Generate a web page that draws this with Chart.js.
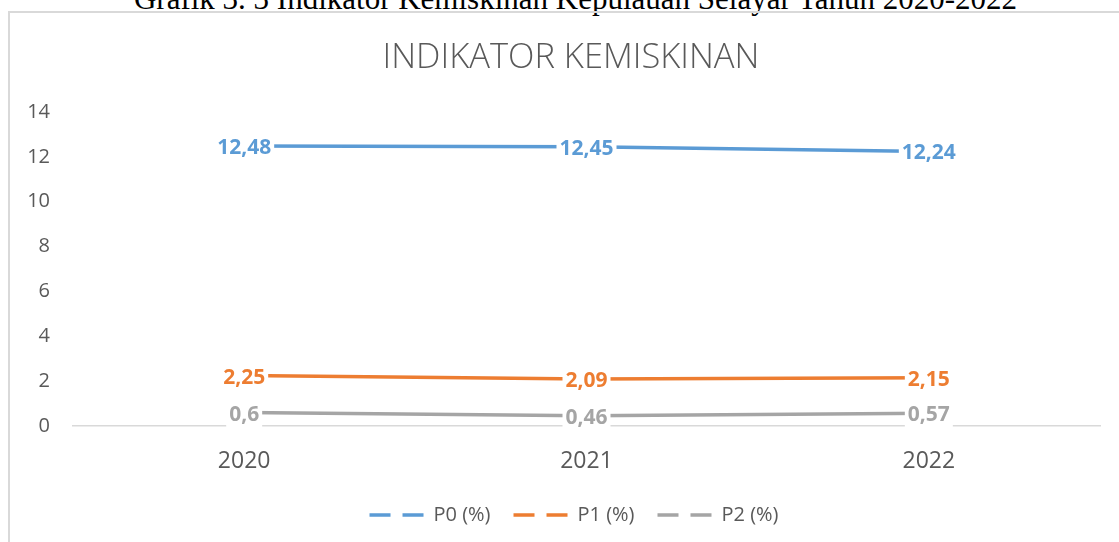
<!DOCTYPE html>
<html lang="id">
<head>
<meta charset="UTF-8">
<title>Indikator Kemiskinan</title>
<script src="https://cdn.jsdelivr.net/npm/chart.js@4.4.0/dist/chart.umd.min.js"></script>
<style>
  html, body { margin: 0; padding: 0; background: #fff; overflow: hidden; }
  .page { position: relative; width: 1119px; height: 542px; overflow: hidden; }
  .caption {
    position: absolute; left: 0; width: 1151px; top: -17px;
    text-align: center; font-family: "Liberation Serif", serif;
    font-size: 31px; line-height: 1; color: #000; white-space: nowrap;
  }
  .frame {
    position: absolute; left: 8px; top: 11px; width: 1300px; height: 700px;
    border-left: 2px solid #d9d9d9; border-top: 2px solid #d9d9d9;
  }
  #chart { position: absolute; left: 0; top: 0; }
</style>
</head>
<body>
<div class="page">
  <div class="caption">Grafik 3. 3 Indikator Kemiskinan Kepulauan Selayar Tahun 2020-2022</div>
  <div class="frame"></div>
  <canvas id="chart" width="1119" height="542"></canvas>
</div>

<script>
// data
var years = ["2020", "2021", "2022"];
var p0 = [12.48, 12.45, 12.24];
var p1 = [2.25, 2.09, 2.15];
var p2 = [0.6, 0.46, 0.57];
var yTicks = [0, 2, 4, 6, 8, 10, 12, 14];

var seriesNames = ["P0 (%)", "P1 (%)", "P2 (%)"];
var seriesColors = ["#5b9bd5", "#ed7d31", "#a5a5a5"];

Chart.defaults.font.family = '"Open Sans", sans-serif';
Chart.defaults.color = "#595959";

// value labels sit on top of the points with a white box behind them
var valueLabels = {
  id: "valueLabels",
  afterDatasetsDraw: function (chart) {
    var ctx = chart.ctx;
    ctx.save();
    ctx.font = 'bold 21px "Open Sans", sans-serif';
    ctx.textAlign = "center";
    ctx.textBaseline = "middle";
    chart.data.datasets.forEach(function (ds, i) {
      var meta = chart.getDatasetMeta(i);
      meta.data.forEach(function (pt, j) {
        var txt = String(ds.data[j]).replace(".", ",");
        var w = ctx.measureText(txt).width;
        ctx.fillStyle = "#fff";
        ctx.fillRect(pt.x - w / 2 - 3, pt.y - 13, w + 6, 28);
        ctx.fillStyle = ds.borderColor;
        ctx.fillText(txt, pt.x, pt.y + 2);
      });
    });
    ctx.restore();
  }
};

// title and legend in the original are centred on the whole frame, not the plot
var centreOnFrame = {
  id: "centreOnFrame",
  afterLayout: function (chart) {
    chart.legend.left += 24;
    chart.legend.right += 24;
    chart.titleBlock.left += 21;
    chart.titleBlock.right += 21;
  }
};

var lists = [p0, p1, p2];
var datasets = lists.map(function (vals, i) {
  return {
    label: seriesNames[i],
    data: vals,
    borderColor: seriesColors[i],
    backgroundColor: seriesColors[i],
    borderWidth: 3.5,
    pointRadius: 0,
    pointHoverRadius: 0,
    tension: 0
  };
});

new Chart(document.getElementById("chart"), {
  type: "line",
  data: { labels: years, datasets: datasets },
  plugins: [valueLabels, centreOnFrame],
  options: {
    responsive: false,
    animation: false,
    devicePixelRatio: 1,
    layout: { padding: { top: 0, right: 19, bottom: 7, left: 0 } },
    plugins: {
      tooltip: { enabled: false },
      title: {
        display: true,
        text: "INDIKATOR KEMISKINAN",
        color: "#595959",
        font: { size: 34.5, weight: "300" },
        padding: { top: 37, bottom: 33.6 }
      },
      legend: {
        position: "bottom",
        labels: {
          usePointStyle: true,
          pointStyleWidth: 54,
          boxHeight: 20,
          padding: 23,
          color: "#595959",
          font: { size: 20 },
          generateLabels: function (chart) {
            return chart.data.datasets.map(function (ds, i) {
              return {
                text: ds.label,
                fillStyle: ds.borderColor,
                strokeStyle: ds.borderColor,
                fontColor: "#595959",
                lineWidth: 3.5,
                lineDash: [21, 12],
                pointStyle: "line",
                hidden: false,
                datasetIndex: i
              };
            });
          }
        }
      }
    },
    scales: {
      x: {
        offset: true,
        grid: { display: false, drawTicks: false },
        border: { display: true, color: "#d9d9d9", width: 1.5 },
        ticks: { padding: 22, font: { size: 23 }, color: "#595959" },
        afterFit: function (s) { s.height = 56; }
      },
      y: {
        min: 0,
        max: 14,
        grid: { display: false, drawTicks: false },
        border: { display: false },
        afterBuildTicks: function (s) {
          s.ticks = yTicks.map(function (v) { return { value: v }; });
        },
        ticks: { padding: 23, font: { size: 20 }, color: "#595959" },
        afterFit: function (s) { s.width = 73; }
      }
    }
  }
});
</script>
</body>
</html>
